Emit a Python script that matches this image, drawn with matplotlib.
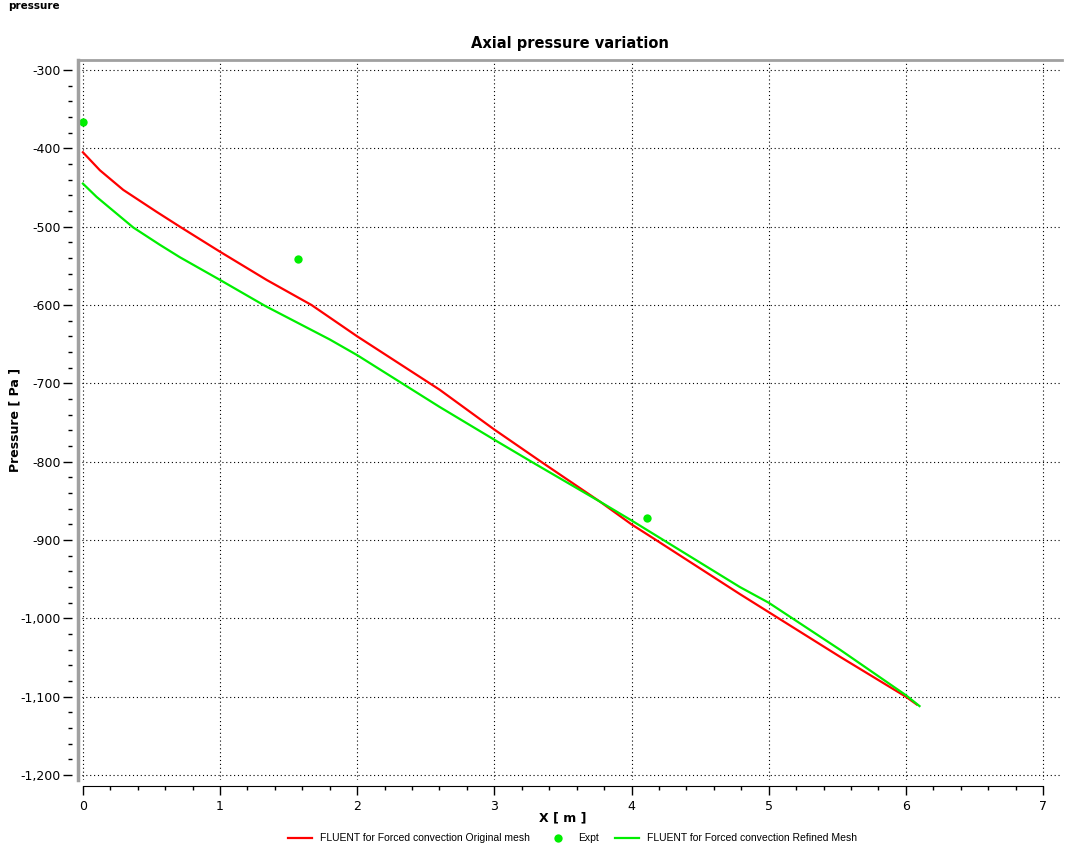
import matplotlib
matplotlib.use("Agg")
import matplotlib.pyplot as plt
from matplotlib.ticker import MultipleLocator, FuncFormatter

# values
orig_x = [0, 0.124, 0.294, 0.537, 0.707, 1.0, 1.34, 1.667, 2.0, 2.6, 3.0,
          3.34, 3.77, 4.0, 4.17, 4.79, 5.0, 5.52, 6.0, 6.08]
orig_p = [-405, -428, -453, -481, -500, -532, -568, -600, -640, -708, -759,
          -800, -851, -880, -899, -969, -992, -1049, -1100, -1110]

refined_x = [0, 0.1, 0.367, 0.56, 0.707, 1.0, 1.327, 1.8, 2.0, 2.6, 3.0, 3.27,
             3.77, 4.0, 4.79, 5.0, 5.52, 6.0, 6.10]
refined_p = [-445, -462, -501, -523, -539, -568, -601, -644, -664, -730, -772,
             -800, -851, -875, -960, -980, -1040, -1098, -1112]

expt_x = [0.0, 1.568, 4.115]
expt_p = [-366, -541, -872]

plt.rcParams['font.family'] = ['DejaVu Sans']

fig = plt.figure(figsize=(10.68, 8.57), dpi=100)
ax = fig.add_axes([0.0730, 0.0898, 0.9214, 0.8402])

l1, = ax.plot(orig_x, orig_p, color="#ff0000", lw=1.6,
              label="FLUENT for Forced convection Original mesh")
l2, = ax.plot(expt_x, expt_p, 'o', color="#00ee00", ms=6, mec="none",
              label="Expt")
l3, = ax.plot(refined_x, refined_p, color="#00ee00", lw=1.6,
              label="FLUENT for Forced convection Refined Mesh")

ax.set_xlim(-0.036, 7.139)
ax.set_ylim(-1206.4, -287.2)

ax.xaxis.set_major_locator(MultipleLocator(1))
ax.xaxis.set_minor_locator(MultipleLocator(0.2))
ax.yaxis.set_major_locator(MultipleLocator(100))
ax.yaxis.set_minor_locator(MultipleLocator(20))
ax.yaxis.set_major_formatter(FuncFormatter(lambda v, p: f"{v:,.0f}"))

ax.grid(True, which="major", color="k", lw=0.8, linestyle=(0, (1, 2.5)))

# frame: grey left/top, black x axis below, only ticks for y
ax.spines["right"].set_visible(False)
ax.spines["top"].set_color("#a0a0a0")
ax.spines["top"].set_linewidth(2)
ax.spines["left"].set_position(("outward", 4))
ax.spines["left"].set_visible(False)
ax.spines["bottom"].set_position(("outward", 4))
ax.spines["bottom"].set_bounds(0, 7)
ax.plot([0, 0], [0, 1], transform=ax.transAxes, color="#a0a0a0", lw=2.5,
        clip_on=False)

ax.tick_params(which="major", direction="out", length=6.5, width=1,
               labelsize=9, colors="k")
ax.tick_params(which="minor", direction="out", length=3, width=1)
ax.tick_params(axis="x", pad=4)
ax.tick_params(axis="y", pad=2)

fig.text(0.0075, 0.999, "pressure", fontsize=7.5, fontweight="bold",
         ha="left", va="top")
fig.text(0.534, 0.949, "Axial pressure variation", fontsize=10.5,
         fontweight="bold", ha="center", va="center")
fig.text(0.527, 0.046, "X [ m ]", fontsize=9, fontweight="bold",
         ha="center", va="center")
fig.text(0.014, 0.51, "Pressure [ Pa ]", fontsize=9, fontweight="bold",
         rotation=90, ha="center", va="center")

fig.legend(handles=[l1, l2, l3], loc="center", bbox_to_anchor=(0.536, 0.022),
           ncol=3, frameon=False, prop={"family": "Liberation Sans", "size": 7.5},
           handlelength=2.3, columnspacing=1.55, handletextpad=0.77)

fig.savefig("out.png", dpi=100)
